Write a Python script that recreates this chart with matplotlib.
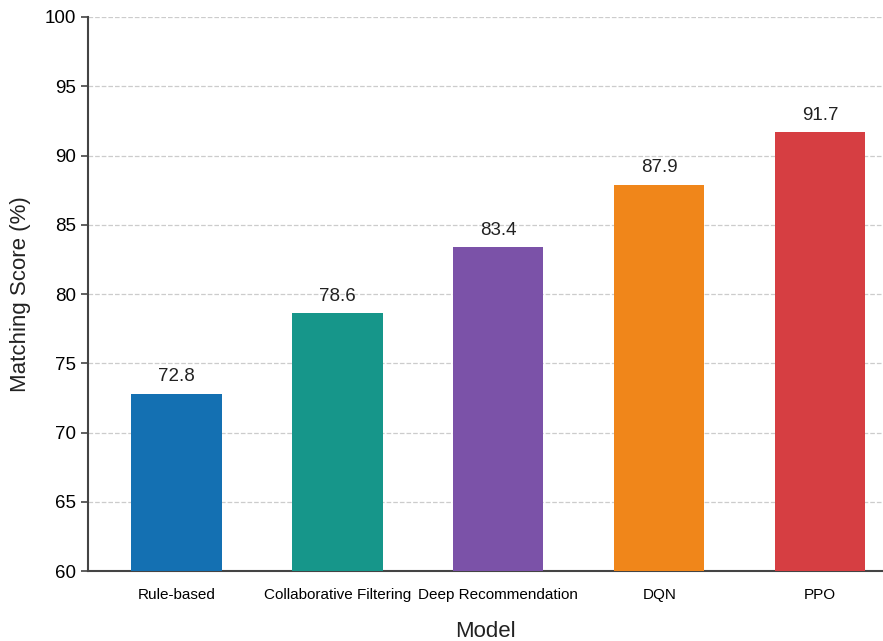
import numpy as np
import matplotlib.pyplot as plt

## Data
models = ["Rule-based", "Collaborative Filtering", "Deep Recommendation", "DQN", "PPO"]
scores = [72.8, 78.6, 83.4, 87.9, 91.7]
bar_colors = ["#1470b2", "#16968a", "#7b52a8", "#f0861a", "#d63e42"]
y_ticks = [60, 65, 70, 75, 80, 85, 90, 95, 100]

plt.rcParams['font.family'] = ['Liberation Sans', 'DejaVu Sans']

## Figure
fig = plt.figure(figsize=(8.83, 6.41), dpi=100)
ax = fig.add_axes([0.0997, 0.109, 0.9003, 0.8645])

x = np.arange(len(models))
bars = ax.bar(x, scores, width=0.56, color=bar_colors, zorder=3)

# value labels above bars
for xi, val in zip(x, scores):
    ax.text(xi, val + 0.6, f"{val:.1f}", ha='center', va='bottom', fontsize=13.5, color='#222222')

ax.set_ylim(60, 100)
ax.set_xlim(-0.55, 4.39)
ax.set_yticks(y_ticks)
ax.set_xticks(x)
ax.set_xticklabels(models, fontsize=11)
ax.tick_params(axis='y', labelsize=13.5, length=5, width=1.2, color='#444444')
ax.tick_params(axis='x', length=0, pad=12)
ax.set_ylabel("Matching Score (%)", fontsize=16, labelpad=10, color='#222222')
ax.set_xlabel("Model", fontsize=16, labelpad=14, color='#222222')

ax.grid(axis='y', linestyle='--', color='#cccccc', linewidth=0.9, zorder=0)
for side in ['top', 'right']:
    ax.spines[side].set_visible(False)
for side in ['left', 'bottom']:
    ax.spines[side].set_color('#444444')
    ax.spines[side].set_linewidth(1.5)

fig.savefig("out.png", dpi=100)
